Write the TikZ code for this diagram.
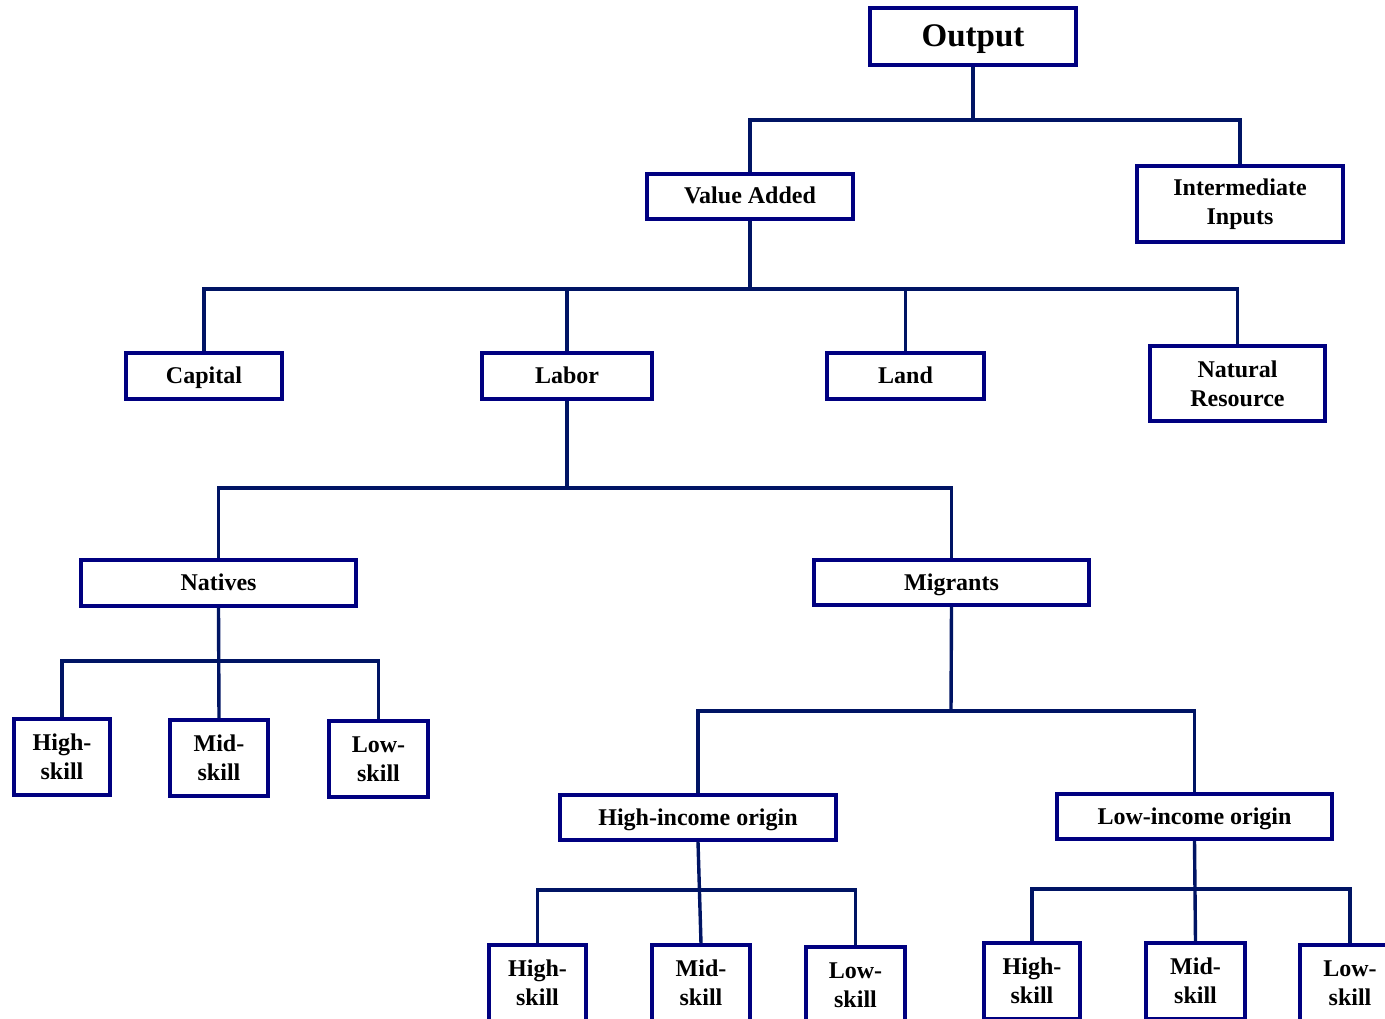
\documentclass[tikz,border=0pt]{standalone}
\usepackage{fontspec}
\setmainfont{Liberation Serif}
\definecolor{boxblue}{RGB}{0,0,128}
\definecolor{lineblue}{RGB}{0,20,100}
\begin{document}
\begin{tikzpicture}[x=1pt,y=-1pt,
  box/.style={draw=boxblue,line width=3.2pt,fill=white,font=\fontsize{24}{29}\selectfont\bfseries,align=center,inner sep=0pt},
  one/.style={text height=18pt,text depth=3pt},
  conn/.style={draw=lineblue,line width=3.4pt}]
\useasboundingbox (0,0) rectangle (1385,1019);
\clip (0,0) rectangle (1385,1019);
% connectors first
\coordinate (j1) at (973,120);
\coordinate (j2) at (750,289);
\coordinate (j3) at (567,488);
\coordinate (j4) at (219,661);
\coordinate (j5) at (951,711);
\coordinate (j6) at (698,890);
\coordinate (j7) at (1195,889);
% nodes
\node[box,minimum width=206,minimum height=57,font=\fontsize{33}{38}\selectfont\bfseries,text height=24pt,text depth=4pt] (out) at (973,36.5) {Output};
\node[box,one,minimum width=206,minimum height=45] (va) at (750,196.5) {Value Added};
\node[box,minimum width=206,minimum height=76] (ii) at (1240,204) {Intermediate\\Inputs};
\node[box,one,minimum width=156,minimum height=46] (cap) at (204,376) {Capital};
\node[box,one,minimum width=170,minimum height=46] (lab) at (567,376) {Labor};
\node[box,one,minimum width=157,minimum height=46] (land) at (905.5,376) {Land};
\node[box,minimum width=175,minimum height=75] (nat) at (1237.5,383.5) {Natural\\Resource};
\node[box,one,minimum width=275,minimum height=46] (natv) at (218.5,583) {Natives};
\node[box,one,minimum width=275,minimum height=45] (mig) at (951.5,582.5) {Migrants};
\node[box,minimum width=96,minimum height=76] (nh) at (62,757) {High-\\skill};
\node[box,minimum width=98,minimum height=76] (nm) at (219,758) {Mid-\\skill};
\node[box,minimum width=99,minimum height=76] (nl) at (378.5,759) {Low-\\skill};
\node[box,one,minimum width=276,minimum height=45] (hio) at (698,817.5) {High-income origin};
\node[box,one,minimum width=275,minimum height=45] (lio) at (1194.5,816.5) {Low-income origin};
\node[box,minimum width=97,minimum height=76] (bh1) at (537.5,983) {High-\\skill};
\node[box,minimum width=98,minimum height=76] (bm1) at (701,983) {Mid-\\skill};
\node[box,minimum width=99,minimum height=76] (bl1) at (855.5,985) {Low-\\skill};
\node[box,minimum width=96,minimum height=76] (bh2) at (1032,981) {High-\\skill};
\node[box,minimum width=99,minimum height=76] (bm2) at (1195.5,981) {Mid-\\skill};
\node[box,minimum width=100,minimum height=76] (bl2) at (1350,983) {Low-\\skill};
% connectors
\draw[conn] (out.south) -- (j1);
\draw[conn] (va.north) |- (j1) -| (ii.north);
\draw[conn] (va.south) -- (j2);
\draw[conn] (cap.north) |- (j2) -| (nat.north);
\draw[conn] (lab.north) -- (lab.north |- j2);
\draw[conn] (land.north) -- (land.north |- j2);
\draw[conn] (lab.south) -- (j3);
\draw[conn] (natv.north) |- (j3) -| (mig.north);
\draw[conn] (natv.south) -- (nm.north);
\draw[conn] (nh.north) |- (j4) -| (nl.north);
\draw[conn] (mig.south) -- (j5);
\draw[conn] (hio.north) |- (j5) -| (lio.north);
\draw[conn] (hio.south) -- (bm1.north);
\draw[conn] (bh1.north) |- (j6) -| (bl1.north);
\draw[conn] (lio.south) -- (bm2.north);
\draw[conn] (bh2.north) |- (j7) -| (bl2.north);
\end{tikzpicture}
\end{document}
